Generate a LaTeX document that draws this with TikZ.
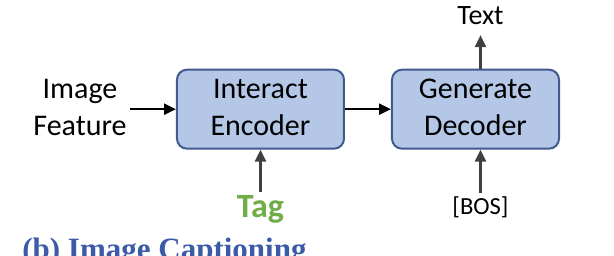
\documentclass[tikz,border=0pt]{standalone}
\usepackage{fontspec}
\setmainfont{Carlito}
\newfontfamily\capfont{Liberation Serif}
\usepackage{tikz}
\usetikzlibrary{matrix,arrows.meta,calc}
\usepackage{xcolor}
\definecolor{boxfill}{HTML}{B4C7E7}
\definecolor{boxline}{HTML}{42598C}
\definecolor{taggreen}{HTML}{70AD47}
\definecolor{capblue}{HTML}{3B5AA8}
\newcommand{\boxfont}{\fontsize{15}{18.5}\selectfont}
\newcommand{\twoline}[2]{\begin{tabular}{@{}c@{}}#1\\#2\end{tabular}}

\tikzset{
  block/.style={draw=boxline, line width=1pt, fill=boxfill, rounded corners=5pt,
                minimum width=83.5pt, minimum height=39.5pt, font=\boxfont},
  flow/.style={-{Triangle[length=6pt,width=5.5pt]}, line width=1.2pt},
  feed/.style={flow, draw=black!75},
}

\begin{document}
\begin{tikzpicture}
            \matrix (m) [matrix of nodes, column sep=23pt, row sep=22pt,
                         nodes={anchor=center, inner sep=0pt}
                        ]
            {
                                    &                               &   |[font=\fontsize{14}{17}\selectfont, text height=9pt, text depth=0pt, xshift=2.5pt]| Text  \\
             |[font=\boxfont, minimum width=50pt]| \twoline{Image}{Feature}
                                    &   |[block]| \twoline{Interact}{Encoder} &   |[block]| \twoline{Generate}{Decoder} \\[1pt]
                                    &   |[font=\fontsize{17}{20}\selectfont\bfseries, text=taggreen, text height=11pt, text depth=0pt]| Tag
                                                                    &   |[font=\fontsize{12.3}{15}\selectfont, text height=8pt, text depth=0pt, xshift=2.5pt]| {[BOS]} \\
              };
            \draw[flow] (m-2-1.east |- m-2-2.west) -- (m-2-2.west);
            \draw[flow] (m-2-2.east) -- (m-2-3.west);
            \draw[feed, shorten >=5pt] (m-1-3.south |- m-2-3.north) -- (m-1-3.south);
            \draw[feed, shorten <=1.5pt] (m-3-2.north) -- (m-2-2.south);
            \draw[feed, shorten <=2.5pt] (m-3-3.north) -- (m-3-3.north |- m-2-3.south);

            % Caption runs off the lower edge
            \node[overlay, anchor=base west, inner sep=0pt, text=capblue,
                  font=\capfont\bfseries\fontsize{15.5}{18}\selectfont] (cap)
                  at ($(m-2-2.north west)+(-77pt,-95.5pt)$) {(b) Image Captioning};

            \useasboundingbox ($(m-2-2.north west)+(-88pt,33.5pt)$) rectangle ($(m-2-2.north west)+(219pt,-93.5pt)$);
        \end{tikzpicture}
\end{document}
